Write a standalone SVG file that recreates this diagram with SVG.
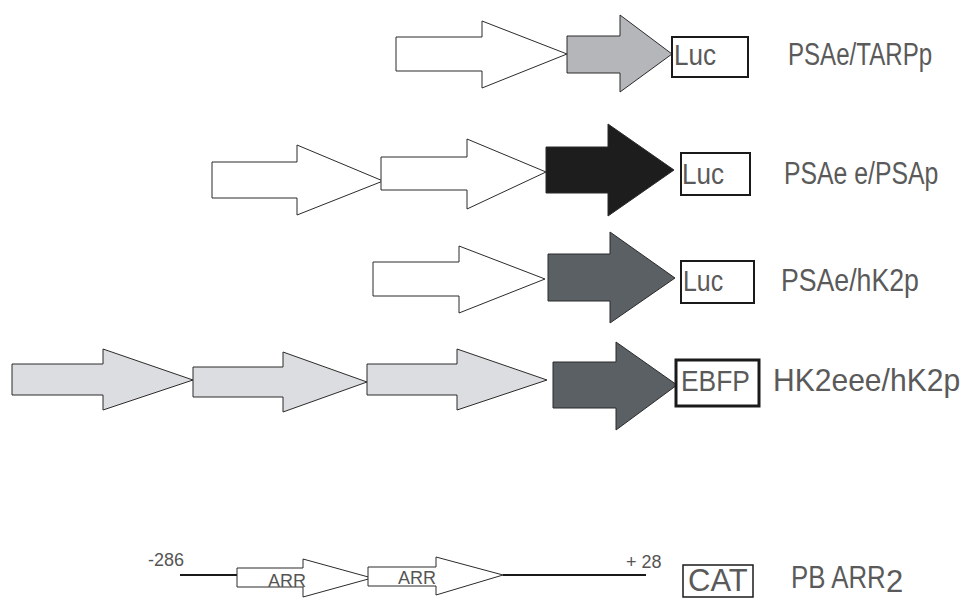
<svg xmlns="http://www.w3.org/2000/svg" width="966" height="598" viewBox="0 0 966 598">
  <style>
    .lbl{font-family:"Liberation Sans",Arial,sans-serif;fill:#5a5a5a;font-size:31px}
    .gene{font-family:"Liberation Sans",Arial,sans-serif;fill:#5a5a5a;font-size:29px}
    .sm{font-family:"Liberation Sans",Arial,sans-serif;fill:#555;font-size:18px}
    .arr{stroke:#2b2b2b;stroke-width:1;stroke-linejoin:miter}
    .white{fill:#fff}
    .light{fill:#dcdde0}
    .mid{fill:#b5b6b9}
    .dark{fill:#5a6064}
    .black{fill:#1d1d1d}
    .box{fill:#fff;stroke:#1a1a1a;stroke-width:2}
    .boxb{fill:#fff;stroke:#1a1a1a;stroke-width:3}
    .line{stroke:#1a1a1a;stroke-width:2;fill:none}
  </style>
  <rect width="966" height="598" fill="#fff"/>

  <!-- Construct 1: PSAe/TARPp -->
  <g id="row1">
    <polygon class="arr white" points="396,37 482,37 482,21 567,54 482,88 482,71 396,71"/>
    <polygon class="arr mid" points="567,36 620,36 620,15 672,54 620,92 620,73 567,73"/>
    <rect class="box" x="672" y="37" width="76" height="40"/>
    <text class="gene" transform="translate(674,65) scale(0.9,1)">Luc</text>
    <text class="lbl" transform="translate(788,65) scale(0.777,1)">PSAe/TARPp</text>
  </g>

  <!-- Construct 2: PSAee/PSAp -->
  <g id="row2">
    <polygon class="arr white" points="212,162 297,162 297,145 383,181 297,215 297,198 212,198"/>
    <polygon class="arr white" points="381,157 467,157 467,139 546,172 467,209 467,190 381,190"/>
    <polygon class="arr black" points="546,147 608,147 608,124 674,170 608,216 608,193 546,193"/>
    <rect class="box" x="681" y="153" width="69" height="42"/>
    <text class="gene" transform="translate(682,184) scale(0.9,1)">Luc</text>
    <text class="lbl" transform="translate(784,184) scale(0.8,1)">PSAe e/PSAp</text>
  </g>

  <!-- Construct 3: PSAe/hK2p -->
  <g id="row3">
    <polygon class="arr white" points="373,262 459,262 459,246 545,279 459,313 459,296 373,296"/>
    <polygon class="arr dark" points="548,254 610,254 610,232 675,278 610,323 610,301 548,301"/>
    <rect class="box" x="681" y="261" width="73" height="42"/>
    <text class="gene" transform="translate(683,291) scale(0.86,1)">Luc</text>
    <text class="lbl" transform="translate(781,291) scale(0.861,1)">PSAe/hK2p</text>
  </g>

  <!-- Construct 4: HK2eee/hK2p -->
  <g id="row4">
    <polygon class="arr light" points="12,364 103,364 103,349 193,380 103,410 103,395 12,395"/>
    <polygon class="arr light" points="193,367 283,367 283,352 367,382 283,412 283,397 193,397"/>
    <polygon class="arr light" points="367,364 457,364 457,349 547,380 457,410 457,395 367,395"/>
    <polygon class="arr dark" points="553,362 616,362 616,342 677,385 616,430 616,408 553,408"/>
    <rect class="boxb" x="676" y="360" width="83" height="46"/>
    <text class="gene" transform="translate(681,391) scale(0.91,1)">EBFP</text>
    <text class="lbl" transform="translate(773,391) scale(0.97,1)">HK2eee/hK2p</text>
  </g>

  <!-- Promoter line for PB ARR2 -->
  <g id="connectors">
    <line class="line" x1="180" y1="575" x2="237" y2="575"/>
    <line class="line" x1="503" y1="575" x2="646" y2="575"/>
  </g>

  <g id="row5">
    <text class="sm" x="148" y="566">-286</text>
    <g id="arr1">
      <polygon class="arr white" points="237,568 303,568 303,559 372,578 303,597 303,587 237,587"/>
      <text class="sm" x="268" y="587">ARR</text>
    </g>
    <g id="arr2">
      <polygon class="arr white" points="368,567 436,567 436,557 503,575 436,595 436,586 368,586"/>
      <text class="sm" x="398" y="584">ARR</text>
    </g>
    <text class="sm" x="626" y="568">+ 28</text>
    <g id="cat">
      <rect fill="#fff" stroke="#1a1a1a" stroke-width="1.5" x="683" y="565" width="70" height="32"/>
      <text class="lbl" x="688" y="591" font-size="30">CAT</text>
    </g>
    <text class="lbl" font-size="30" transform="translate(791,588) scale(0.833,1)">PB ARR</text>
    <text class="lbl" x="886" y="592" font-size="15">2</text>
  </g>
</svg>
